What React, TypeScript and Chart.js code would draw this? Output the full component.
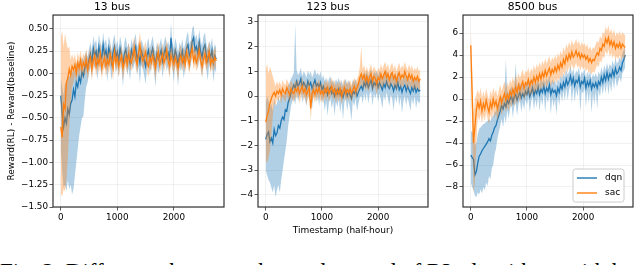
import React, { useEffect, useRef } from "react";
import { Chart, registerables } from "chart.js";

Chart.register(...registerables);

// ---------------- data ----------------
const TIMESTAMPS = [
  0, 25, 50, 75, 100, 125, 150, 175, 200, 225,
  250, 275, 300, 325, 350, 375, 400, 425, 450, 475,
  500, 525, 550, 575, 600, 625, 650, 675, 700, 725,
  750, 775, 800, 825, 850, 875, 900, 925, 950, 975,
  1000, 1025, 1050, 1075, 1100, 1125, 1150, 1175, 1200, 1225,
  1250, 1275, 1300, 1325, 1350, 1375, 1400, 1425, 1450, 1475,
  1500, 1525, 1550, 1575, 1600, 1625, 1650, 1675, 1700, 1725,
  1750, 1775, 1800, 1825, 1850, 1875, 1900, 1925, 1950, 1975,
  2000, 2025, 2050, 2075, 2100, 2125, 2150, 2175, 2200, 2225,
  2250, 2275, 2300, 2325, 2350, 2375, 2400, 2425, 2450, 2475,
  2500, 2525, 2550, 2575, 2600, 2625, 2650, 2675, 2700, 2725, 2750,
];
const X_TICKS = [0, 1000, 2000];

const TITLES = ["13 bus", "123 bus", "8500 bus"];
const SERIES_NAMES = ["dqn", "sac"];
const Y_LABEL = "Reward(RL) - Reward(baseline)";
const X_LABEL = "Timestamp (half-hour)";
const CAPTION = "Fig. 2: Difference between the total reward of RL algorithms with baseline and";

const BUS13_TICKS = [-1.5, -1.25, -1, -0.75, -0.5, -0.25, 0, 0.25, 0.5];
const BUS123_TICKS = [-4, -3, -2, -1, 0, 1, 2, 3];
const BUS8500_TICKS = [-8, -6, -4, -2, 0, 2, 4, 6];

// 13 bus
const BUS13_DQN = [
  -0.25, -0.45, -0.60, -0.50, -0.56, -0.40, -0.46, -0.34, -0.30, -0.18,
  -0.26, -0.10, -0.15, -0.04, -0.10, 0.02, -0.03, 0.06, 0.12, 0.05,
  0.16, 0.22, 0.12, 0.28, 0.20, 0.25, 0.14, 0.30, 0.22, 0.18,
  0.32, 0.20, 0.26, 0.15, 0.29, 0.22, 0.12, 0.24, 0.30, 0.18,
  0.24, 0.14, 0.28, 0.20, 0.10, 0.22, 0.27, 0.16, 0.21, 0.12,
  0.26, 0.19, 0.24, 0.30, 0.16, 0.22, 0.12, 0.25, 0.20, 0.15,
  0.08, 0.20, 0.26, 0.15, 0.22, 0.28, 0.18, 0.10, 0.22, 0.16,
  0.20, 0.26, 0.14, 0.22, 0.28, 0.18, 0.23, 0.16, 0.40, 0.22,
  0.15, 0.26, 0.20, 0.10, 0.22, 0.17, 0.25, 0.14, 0.20, 0.28,
  0.32, 0.20, 0.24, 0.36, 0.40, 0.26, 0.30, 0.22, 0.35, 0.24,
  0.18, 0.28, 0.32, 0.20, 0.14, 0.24, 0.18, 0.26, 0.12, 0.20, 0.16,
];
const BUS13_DQN_LO = [
  -0.85, -1.10, -1.28, -1.25, -1.32, -1.20, -1.30, -1.25, -1.36, -1.30,
  -1.15, -1.00, -0.85, -0.70, -0.60, -0.50, -0.48, -0.30, -0.15, -0.10,
  0.00, 0.08, -0.05, 0.12, 0.05, 0.10, -0.08, 0.15, 0.05, -0.02,
  0.15, 0.05, 0.10, -0.10, 0.14, 0.05, -0.08, 0.10, 0.15, 0.00,
  0.10, -0.05, 0.14, 0.05, -0.15, 0.08, 0.12, -0.02, 0.06, -0.08,
  0.12, 0.04, 0.10, 0.15, -0.02, 0.08, -0.12, 0.10, 0.06, -0.02,
  -0.12, 0.05, 0.12, -0.02, 0.08, 0.14, 0.02, -0.15, 0.08, 0.00,
  0.06, 0.12, -0.05, 0.08, 0.14, 0.02, 0.10, -0.05, 0.22, 0.06,
  -0.10, 0.12, 0.05, -0.15, 0.08, 0.02, 0.10, -0.06, 0.06, 0.14,
  0.16, 0.02, 0.10, 0.20, 0.24, 0.10, 0.14, 0.05, 0.18, 0.08,
  -0.05, 0.12, 0.16, 0.04, -0.08, 0.10, 0.02, 0.12, -0.10, 0.05, 0.00,
];
const BUS13_DQN_HI = [
  -0.05, -0.15, -0.25, -0.10, -0.15, -0.02, -0.05, 0.02, 0.00, 0.08,
  0.02, 0.12, 0.08, 0.15, 0.10, 0.18, 0.14, 0.20, 0.25, 0.18,
  0.28, 0.35, 0.25, 0.42, 0.33, 0.38, 0.26, 0.44, 0.35, 0.30,
  0.46, 0.33, 0.39, 0.27, 0.42, 0.35, 0.25, 0.37, 0.44, 0.31,
  0.37, 0.27, 0.42, 0.33, 0.22, 0.35, 0.41, 0.29, 0.34, 0.25,
  0.39, 0.32, 0.37, 0.45, 0.29, 0.35, 0.25, 0.38, 0.33, 0.28,
  0.21, 0.33, 0.40, 0.28, 0.35, 0.42, 0.31, 0.23, 0.35, 0.29,
  0.33, 0.40, 0.27, 0.35, 0.42, 0.31, 0.36, 0.29, 0.56, 0.35,
  0.28, 0.40, 0.33, 0.23, 0.35, 0.30, 0.39, 0.27, 0.33, 0.42,
  0.47, 0.33, 0.37, 0.50, 0.54, 0.39, 0.44, 0.35, 0.49, 0.37,
  0.31, 0.42, 0.46, 0.33, 0.27, 0.37, 0.31, 0.40, 0.25, 0.33, 0.29,
];
const BUS13_SAC = [
  -0.60, -0.72, -0.35, -0.40, -0.10, -0.05, 0.05, -0.02, 0.08, 0.04,
  0.10, 0.00, 0.12, 0.06, 0.15, 0.05, 0.12, 0.08, 0.16, 0.04,
  0.12, 0.18, 0.05, 0.14, 0.20, 0.08, 0.16, 0.10, 0.22, 0.06,
  0.12, 0.18, 0.08, 0.15, 0.10, 0.21, 0.14, 0.06, 0.24, 0.12,
  0.18, 0.08, 0.14, 0.20, 0.06, 0.12, 0.18, 0.10, 0.22, 0.15,
  0.12, 0.20, 0.28, 0.16, 0.10, 0.22, 0.32, 0.20, 0.14, 0.18,
  0.24, 0.12, 0.08, 0.18, 0.12, 0.20, 0.14, 0.06, 0.18, 0.24,
  0.10, 0.16, 0.22, 0.12, 0.18, 0.26, 0.14, 0.08, 0.20, 0.14,
  0.10, 0.18, 0.12, 0.06, 0.16, 0.20, 0.12, 0.18, 0.10, 0.24,
  0.16, 0.10, 0.22, 0.28, 0.14, 0.20, 0.12, 0.18, 0.26, 0.14,
  0.08, 0.16, 0.22, 0.12, 0.18, 0.24, 0.10, 0.16, 0.12, 0.18, 0.14,
];
const BUS13_SAC_LO = [
  -1.35, -1.38, -1.30, -1.32, -1.20, -0.95, -0.60, -0.35, -0.15, -0.10,
  -0.02, -0.12, 0.02, -0.05, 0.05, -0.08, 0.02, -0.04, 0.06, -0.08,
  0.02, 0.08, -0.08, 0.04, 0.10, -0.04, 0.06, 0.00, 0.12, -0.06,
  0.02, 0.08, -0.04, 0.05, 0.00, 0.11, 0.04, -0.08, 0.14, 0.02,
  0.08, -0.04, 0.04, 0.10, -0.08, 0.02, 0.08, 0.00, 0.12, 0.05,
  0.02, 0.10, 0.16, 0.06, 0.00, 0.12, 0.20, 0.10, 0.04, 0.08,
  0.14, 0.02, -0.04, 0.08, 0.02, 0.10, 0.04, -0.08, 0.08, 0.14,
  0.00, 0.06, 0.12, 0.02, 0.08, 0.16, 0.04, -0.05, 0.10, 0.04,
  0.00, 0.08, 0.02, -0.08, 0.06, 0.10, 0.02, 0.08, 0.00, 0.14,
  0.06, 0.00, 0.12, 0.18, 0.04, 0.10, 0.02, 0.08, 0.16, 0.04,
  -0.04, 0.06, 0.12, 0.02, 0.08, 0.14, 0.00, 0.06, 0.02, 0.08, 0.04,
];
const BUS13_SAC_HI = [
  0.40, 0.48, 0.30, 0.45, 0.35, 0.28, 0.30, 0.15, 0.22, 0.16,
  0.22, 0.12, 0.24, 0.17, 0.26, 0.16, 0.23, 0.19, 0.28, 0.15,
  0.23, 0.30, 0.16, 0.25, 0.32, 0.19, 0.28, 0.21, 0.35, 0.17,
  0.23, 0.30, 0.19, 0.26, 0.21, 0.33, 0.25, 0.17, 0.37, 0.23,
  0.29, 0.19, 0.25, 0.32, 0.17, 0.23, 0.30, 0.21, 0.35, 0.26,
  0.23, 0.32, 0.42, 0.28, 0.21, 0.35, 0.46, 0.32, 0.25, 0.30,
  0.36, 0.23, 0.19, 0.30, 0.23, 0.32, 0.25, 0.17, 0.30, 0.36,
  0.21, 0.28, 0.34, 0.23, 0.30, 0.38, 0.25, 0.19, 0.32, 0.25,
  0.21, 0.30, 0.23, 0.17, 0.28, 0.32, 0.23, 0.30, 0.21, 0.36,
  0.28, 0.21, 0.34, 0.40, 0.25, 0.32, 0.23, 0.30, 0.38, 0.25,
  0.19, 0.28, 0.34, 0.23, 0.30, 0.36, 0.21, 0.28, 0.23, 0.30, 0.25,
];

// 123 bus
const BUS123_DQN = [
  -1.75, -1.55, -1.45, -1.85, -1.70, -1.90, -1.35, -1.60, -1.50, -1.20,
  -1.30, -1.00, -0.85, -0.95, -0.55, -0.60, -0.25, -0.10, 0.15, 0.30,
  0.45, 0.30, 0.60, 0.40, 0.50, 0.70, 0.35, 0.55, 0.45, 0.30,
  0.60, 0.42, 0.55, 0.30, 0.48, 0.65, 0.40, 0.50, 0.35, 0.55,
  0.25, 0.40, 0.15, 0.30, 0.05, 0.25, 0.35, 0.10, 0.20, 0.00,
  0.25, 0.10, 0.30, 0.05, 0.20, -0.05, 0.15, 0.25, 0.00, 0.18,
  0.05, -0.10, 0.20, 0.10, 0.25, 0.00, 0.15, 0.30, 0.40, 0.25,
  0.55, 0.40, 0.60, 0.35, 0.50, 0.65, 0.30, 0.55, 0.45, 0.60,
  0.35, 0.55, 0.40, 0.25, 0.50, 0.35, 0.60, 0.40, 0.30, 0.50,
  0.40, 0.20, 0.45, 0.30, 0.55, 0.25, 0.40, 0.15, 0.35, 0.45,
  0.20, 0.40, 0.25, 0.10, 0.35, 0.20, 0.40, 0.15, 0.30, 0.20, 0.25,
];
const BUS123_DQN_LO = [
  -3.00, -3.20, -3.40, -3.50, -3.70, -3.90, -3.60, -4.10, -3.80, -3.60,
  -3.90, -3.40, -3.00, -2.60, -2.20, -1.80, -1.20, -0.80, -0.40, -0.20,
  -0.10, -0.35, 0.15, -0.20, 0.00, 0.20, -0.30, 0.10, -0.15, -0.40,
  0.10, -0.20, 0.05, -0.50, 0.00, 0.20, -0.25, 0.05, -0.40, 0.10,
  -0.30, -0.05, -0.60, -0.20, -0.80, -0.25, -0.10, -0.50, -0.20, -0.80,
  -0.20, -0.45, -0.10, -0.70, -0.20, -0.95, -0.25, -0.10, -0.60, -0.20,
  -0.50, -1.00, -0.20, -0.40, -0.10, -0.60, -0.30, -0.05, 0.00, -0.30,
  0.10, -0.20, 0.15, -0.30, 0.05, 0.20, -0.40, 0.10, -0.10, 0.15,
  -0.25, 0.10, -0.15, -0.50, 0.05, -0.20, 0.15, -0.10, -0.40, 0.05,
  -0.10, -0.60, 0.00, -0.30, 0.10, -0.40, -0.05, -0.70, -0.20, 0.00,
  -0.40, -0.05, -0.30, -0.60, -0.10, -0.35, 0.00, -0.50, -0.15, -0.30, -0.20,
];
const BUS123_DQN_HI = [
  -0.30, 0.00, -0.20, -0.50, -0.30, -0.60, -0.10, -0.40, -0.30, 0.00,
  -0.20, 0.05, 0.10, 0.05, 0.30, 0.25, 0.45, 0.55, 0.70, 0.80,
  0.95, 2.90, 1.05, 0.85, 0.95, 1.15, 0.80, 1.00, 0.90, 0.75,
  1.05, 0.85, 1.00, 0.75, 0.90, 1.10, 0.85, 0.95, 0.80, 1.00,
  0.70, 0.85, 0.60, 0.75, 0.50, 0.70, 0.80, 0.55, 0.65, 0.45,
  0.70, 0.55, 0.75, 0.50, 0.65, 0.40, 0.60, 0.70, 0.45, 0.65,
  0.50, 0.35, 0.65, 0.55, 0.70, 0.45, 0.60, 0.75, 0.85, 0.70,
  1.00, 0.85, 1.05, 0.80, 0.95, 1.10, 0.75, 1.00, 0.90, 1.05,
  0.80, 1.00, 0.85, 0.70, 0.95, 0.80, 1.05, 0.85, 0.75, 0.95,
  0.85, 0.65, 0.90, 0.75, 1.00, 0.70, 0.85, 0.60, 0.80, 0.90,
  0.65, 0.85, 0.70, 0.55, 0.80, 0.65, 0.85, 0.60, 0.75, 0.65, 0.70,
];
const BUS123_SAC = [
  -1.05, -0.80, -0.60, -0.30, -0.10, 0.05, 0.15, 0.00, 0.20, 0.10,
  0.25, 0.05, 0.30, 0.15, 0.10, 0.35, 0.20, 0.05, 0.30, 0.15,
  0.10, 0.30, 0.20, 0.35, 0.10, 0.25, 0.40, 0.15, 0.30, 0.05,
  0.20, 0.35, -0.50, 0.10, 0.25, 0.05, 0.30, 0.15, 0.35, 0.10,
  0.20, 0.05, 0.30, 0.15, 0.35, 0.10, 0.25, 0.40, 0.15, 0.30,
  0.05, 0.25, 0.10, 0.30, 0.00, 0.20, 0.35, 0.10, 0.25, 0.15,
  0.30, 0.10, 0.25, 0.40, 0.20, 0.35, 0.50, 0.75, 0.90, 0.70,
  0.85, 0.60, 0.80, 0.55, 0.75, 0.90, 0.60, 0.80, 0.70, 0.50,
  0.75, 0.65, 0.90, 0.70, 0.85, 1.00, 0.75, 0.90, 0.65, 0.85,
  0.95, 0.70, 0.85, 0.60, 0.80, 0.95, 0.70, 0.85, 0.75, 1.00,
  0.80, 0.65, 0.90, 0.70, 0.85, 0.60, 0.75, 0.65, 0.80, 0.60, 0.70,
];
const BUS123_SAC_LO = [
  -2.60, -2.70, -2.50, -2.20, -1.60, -0.80, -0.30, -0.40, -0.10, -0.20,
  -0.05, -0.30, 0.00, -0.15, -0.25, 0.05, -0.10, -0.30, 0.00, -0.15,
  -0.25, 0.00, -0.10, 0.05, -0.30, -0.05, 0.10, -0.20, 0.00, -0.35,
  -0.10, 0.05, -1.00, -0.30, -0.05, -0.30, 0.00, -0.20, 0.05, -0.25,
  -0.10, -0.30, 0.00, -0.20, 0.05, -0.25, -0.05, 0.10, -0.20, 0.00,
  -0.30, -0.05, -0.25, 0.00, -0.35, -0.10, 0.05, -0.25, -0.05, -0.20,
  0.00, -0.25, -0.05, 0.10, -0.10, 0.05, 0.15, 0.35, 0.50, 0.30,
  0.45, 0.20, 0.40, 0.15, 0.35, 0.50, 0.20, 0.40, 0.30, 0.05,
  0.35, 0.25, 0.50, 0.30, 0.45, 0.60, 0.35, 0.50, 0.25, 0.45,
  0.55, 0.30, 0.45, 0.20, 0.40, 0.55, 0.30, 0.45, 0.35, 0.60,
  0.40, 0.25, 0.50, 0.30, 0.45, 0.20, 0.35, 0.25, 0.40, 0.20, 0.30,
];
const BUS123_SAC_HI = [
  1.10, 1.30, 0.90, 1.20, 1.00, 0.80, 0.60, 0.40, 0.60, 0.45,
  0.60, 0.40, 0.65, 0.50, 0.45, 0.70, 0.55, 0.40, 0.65, 0.50,
  0.45, 0.65, 0.55, 0.70, 0.45, 0.60, 0.75, 0.50, 0.65, 0.40,
  0.55, 0.70, 0.00, 0.45, 0.60, 0.40, 0.65, 0.50, 0.70, 0.45,
  0.55, 0.40, 0.65, 0.50, 0.70, 0.45, 0.60, 0.75, 0.50, 0.65,
  0.40, 0.60, 0.45, 0.65, 0.35, 0.55, 0.70, 0.45, 0.60, 0.50,
  0.65, 0.45, 0.60, 0.75, 0.55, 0.70, 0.85, 1.20, 2.00, 1.10,
  1.25, 1.00, 1.20, 0.95, 1.15, 1.30, 1.00, 1.20, 1.10, 0.90,
  1.15, 1.05, 1.30, 1.10, 1.25, 1.40, 1.15, 1.30, 1.05, 1.25,
  1.35, 1.10, 1.25, 1.00, 1.20, 1.35, 1.10, 1.25, 1.15, 1.40,
  1.20, 1.05, 1.30, 1.10, 1.25, 1.00, 1.15, 1.05, 1.20, 1.00, 1.10,
];

// 8500 bus
const BUS8500_DQN = [
  -5.10, -5.30, -5.50, -6.90, -6.60, -5.80, -5.20, -5.00, -4.70, -4.50,
  -4.30, -4.10, -3.90, -3.60, -3.80, -3.30, -3.00, -2.60, -2.40, -1.90,
  -1.50, -1.10, -0.60, -0.90, -0.40, -0.70, -0.10, -0.40, 0.00, 0.30,
  -0.30, 0.20, 0.40, -0.10, 0.30, 0.60, 0.10, 0.50, 0.20, 0.70,
  0.40, 0.90, 0.20, 0.60, 1.00, 0.30, 0.80, 0.50, 1.10, 0.40,
  0.90, 0.60, 1.20, 0.50, 1.00, 0.70, 1.30, 0.40, 0.90, 0.60,
  0.80, 0.30, 1.00, 0.60, 1.30, 0.90, 1.50, 1.10, 1.80, 1.30,
  1.60, 2.10, 1.40, 1.90, 1.20, 1.70, 1.50, 2.00, 1.10, 1.60,
  1.40, 1.90, 1.00, 1.60, 1.20, 1.70, 0.90, 1.40, 1.10, 1.50,
  1.00, 1.60, 1.30, 2.00, 1.50, 2.20, 1.70, 2.40, 1.80, 2.30,
  2.00, 2.60, 2.10, 2.80, 2.30, 2.50, 2.90, 2.60, 3.30, 3.60, 4.00,
];
const BUS8500_DQN_LO = [
  -7.60, -8.00, -8.30, -8.80, -8.90, -8.50, -8.70, -8.20, -8.60, -8.00,
  -8.30, -7.60, -7.90, -7.00, -7.30, -6.30, -6.00, -5.00, -4.50, -3.60,
  -3.00, -2.40, -1.80, -2.60, -1.50, -2.20, -1.00, -1.80, -0.90, -0.50,
  -1.70, -0.60, -0.40, -1.50, -0.50, -0.10, -1.20, -0.30, -1.00, 0.00,
  -0.60, 0.20, -1.20, -0.30, 0.30, -1.00, 0.00, -0.80, 0.40, -1.10,
  0.10, -0.60, 0.50, -1.20, 0.20, -0.40, 0.60, -1.40, 0.10, -0.70,
  0.00, -1.50, 0.30, -0.60, 0.60, -0.30, 0.80, -0.20, 1.00, -0.10,
  0.80, 1.30, -0.40, 1.10, -0.30, 0.90, 0.20, 1.20, -1.20, 0.70,
  0.50, 1.10, -0.80, 0.80, -0.40, 0.90, -1.30, 0.50, -0.50, 0.70,
  -0.90, 0.80, 0.20, 1.20, 0.40, 1.40, 0.50, 1.60, 0.40, 1.50,
  0.60, 1.80, 0.90, 2.00, 1.10, 1.60, 2.00, 1.50, 2.40, 2.60, 2.90,
];
const BUS8500_DQN_HI = [
  -2.90, -3.00, -3.20, -4.20, -4.00, -3.20, -2.70, -2.60, -2.40, -2.30,
  -2.20, -2.10, -2.00, -1.80, -2.00, -1.70, -1.50, -1.20, -1.10, -0.70,
  -0.40, -0.10, 0.30, 0.00, 0.50, 3.60, 0.80, 0.50, 0.90, 1.20,
  0.60, 1.10, 3.30, 0.80, 1.20, 1.60, 1.00, 1.40, 1.10, 1.60,
  1.30, 1.80, 1.10, 1.30, 1.90, 1.20, 1.70, 1.40, 2.00, 1.30,
  1.80, 1.50, 1.90, 1.40, 1.90, 1.60, 2.20, 1.30, 1.80, 1.50,
  1.70, 1.20, 1.90, 1.50, 2.20, 1.80, 2.40, 2.00, 2.70, 2.20,
  2.50, 3.00, 2.30, 2.80, 2.10, 2.60, 2.40, 2.90, 2.00, 2.50,
  2.30, 2.80, 1.90, 2.50, 2.10, 2.60, 1.80, 2.30, 2.00, 2.40,
  1.90, 2.50, 2.20, 2.90, 2.40, 3.10, 2.60, 3.30, 2.70, 3.20,
  2.90, 3.50, 3.00, 3.70, 3.20, 3.40, 3.80, 3.50, 4.20, 4.50, 4.80,
];
const BUS8500_SAC = [
  4.90, 0.50, -4.00, -2.50, -1.00, -0.30, -0.80, -0.20, -1.10, -0.40,
  -0.90, -0.10, -0.70, -1.20, -0.30, -0.80, 0.00, -0.60, -0.20, -0.90,
  -0.30, 0.20, -0.40, 0.10, 0.50, -0.10, 0.40, 0.00, 0.70, 0.30,
  0.90, 0.40, 1.10, 0.60, 1.30, 0.80, 1.20, 1.60, 1.00, 1.50,
  1.30, 1.80, 1.20, 1.70, 1.40, 2.00, 1.50, 2.10, 1.70, 2.30,
  1.80, 2.40, 2.00, 2.60, 2.10, 2.50, 2.80, 2.20, 2.70, 2.40,
  2.90, 2.50, 3.10, 2.70, 3.30, 2.90, 3.60, 3.20, 3.90, 3.50,
  4.10, 3.70, 4.30, 3.80, 4.00, 4.40, 3.90, 4.20, 3.70, 4.10,
  3.80, 4.00, 3.60, 3.90, 3.40, 3.70, 3.30, 3.60, 3.50, 3.90,
  4.20, 4.00, 4.60, 4.40, 5.00, 4.80, 5.50, 5.10, 5.60, 4.90,
  5.30, 4.80, 5.20, 4.60, 5.00, 4.70, 5.10, 4.60, 5.00, 4.80, 4.70,
];
const BUS8500_SAC_LO = [
  3.20, -2.50, -8.60, -7.50, -4.00, -1.50, -2.00, -1.40, -2.20, -1.50,
  -2.00, -1.20, -1.80, -2.30, -1.40, -1.90, -1.10, -1.70, -1.30, -2.00,
  -1.40, -0.90, -1.50, -1.00, -0.60, -1.20, -0.70, -1.10, -0.40, -0.80,
  -0.20, -0.70, 0.00, -0.50, 0.20, -0.30, 0.10, 0.50, -0.10, 0.40,
  0.20, 0.70, 0.10, 0.60, 0.30, 0.90, 0.40, 1.00, 0.60, 1.20,
  0.70, 1.30, 0.90, 1.50, 1.00, 1.40, 1.70, 1.10, 1.60, 1.30,
  1.80, 1.40, 2.00, 1.60, 2.20, 1.80, 2.50, 2.10, 2.80, 2.40,
  3.00, 2.60, 3.20, 2.70, 2.90, 3.30, 2.80, 3.10, 2.60, 3.00,
  2.70, 2.90, 2.50, 2.80, 2.30, 2.60, 2.20, 2.50, 2.40, 2.80,
  3.10, 2.90, 3.50, 3.30, 3.90, 3.70, 4.40, 4.00, 4.50, 3.80,
  4.20, 3.70, 4.10, 3.50, 3.90, 3.60, 4.00, 3.50, 3.90, 3.70, 3.60,
];
const BUS8500_SAC_HI = [
  6.60, 3.00, -1.50, 0.00, 0.40, 0.90, 0.40, 1.00, 0.10, 0.70,
  0.20, 1.00, 0.40, -0.10, 0.80, 0.30, 1.10, 0.50, 0.90, 0.20,
  0.80, 1.30, 0.70, 1.20, 1.60, 1.00, 1.50, 1.10, 1.80, 1.40,
  2.00, 1.50, 2.20, 1.70, 2.40, 1.90, 2.30, 2.70, 2.10, 2.60,
  2.40, 2.90, 2.30, 2.80, 2.50, 3.10, 2.60, 3.20, 2.80, 3.40,
  2.90, 3.50, 3.10, 3.70, 3.20, 3.60, 3.90, 3.30, 3.80, 3.50,
  4.00, 3.60, 4.20, 3.80, 4.40, 4.00, 4.70, 4.30, 5.00, 4.60,
  5.20, 4.80, 5.40, 4.90, 5.10, 5.50, 5.00, 5.30, 4.80, 5.20,
  4.90, 5.10, 4.70, 5.00, 4.50, 4.80, 4.40, 4.70, 4.60, 5.00,
  5.30, 5.10, 5.70, 5.50, 6.10, 5.90, 6.60, 6.20, 6.70, 6.00,
  6.40, 5.90, 6.30, 5.70, 6.10, 5.80, 6.20, 5.70, 6.10, 5.90, 5.80,
];

// ---------------- styling / layout ----------------
const FONT = "DejaVu Sans";
const DQN_COLOR = "#1f77b4";
const SAC_COLOR = "#ff7f0e";
const DQN_BAND = "rgba(31,119,180,0.35)";
const SAC_BAND = "rgba(255,127,14,0.35)";
const CANVAS_H = 245;
const PLOT_BOTTOM = 207;

type PanelSpec = {
  title: string;
  left: number;
  width: number;
  yWidth: number;
  padRight: number;
  yMin: number;
  yMax: number;
  yTicks: number[];
  decimals: number;
  dqn: number[][];
  sac: number[][];
  yTitle: boolean;
  xTitle: boolean;
  legend: boolean;
};

const PANELS: PanelSpec[] = [
  {
    title: TITLES[0], left: 0, width: 228, yWidth: 53, padRight: 4,
    yMin: -1.5, yMax: 0.655, yTicks: BUS13_TICKS, decimals: 2,
    dqn: [BUS13_DQN, BUS13_DQN_LO, BUS13_DQN_HI],
    sac: [BUS13_SAC, BUS13_SAC_LO, BUS13_SAC_HI],
    yTitle: true, xTitle: false, legend: false,
  },
  {
    title: TITLES[1], left: 228, width: 204, yWidth: 30, padRight: 4,
    yMin: -4.49, yMax: 3.28, yTicks: BUS123_TICKS, decimals: 0,
    dqn: [BUS123_DQN, BUS123_DQN_LO, BUS123_DQN_HI],
    sac: [BUS123_SAC, BUS123_SAC_LO, BUS123_SAC_HI],
    yTitle: false, xTitle: true, legend: false,
  },
  {
    title: TITLES[2], left: 432, width: 208, yWidth: 31, padRight: 7,
    yMin: -9.82, yMax: 7.64, yTicks: BUS8500_TICKS, decimals: 0,
    dqn: [BUS8500_DQN, BUS8500_DQN_LO, BUS8500_DQN_HI],
    sac: [BUS8500_SAC, BUS8500_SAC_LO, BUS8500_SAC_HI],
    yTitle: false, xTitle: false, legend: true,
  },
];

const toPoints = (arr: number[]) => TIMESTAMPS.map((x, i) => ({ x, y: arr[i] }));
const fmt = (v: number, d: number) => v.toFixed(d).replace("-", "\u2212");

const framePlugin = {
  id: "frame",
  afterDatasetsDraw(chart: any) {
    const { ctx, chartArea } = chart;
    const { left, top, right, bottom } = chartArea;
    ctx.save();
    ctx.strokeStyle = "#333333";
    ctx.lineWidth = 1.2;
    ctx.strokeRect(left, top, right - left, bottom - top);
    ctx.restore();
  },
};

const legendPlugin = {
  id: "boxLegend",
  afterDraw(chart: any) {
    const opts = chart.options.plugins.boxLegend;
    if (!opts || !opts.show) return;
    const { ctx, chartArea } = chart;
    const w = 51;
    const h = 33;
    const x0 = chartArea.right - 9 - w;
    const y0 = chartArea.bottom - 5 - h;
    ctx.save();
    ctx.beginPath();
    const r = 2.5;
    ctx.moveTo(x0 + r, y0);
    ctx.lineTo(x0 + w - r, y0);
    ctx.arcTo(x0 + w, y0, x0 + w, y0 + r, r);
    ctx.lineTo(x0 + w, y0 + h - r);
    ctx.arcTo(x0 + w, y0 + h, x0 + w - r, y0 + h, r);
    ctx.lineTo(x0 + r, y0 + h);
    ctx.arcTo(x0, y0 + h, x0, y0 + h - r, r);
    ctx.lineTo(x0, y0 + r);
    ctx.arcTo(x0, y0, x0 + r, y0, r);
    ctx.closePath();
    ctx.fillStyle = "rgba(255,255,255,0.85)";
    ctx.fill();
    ctx.strokeStyle = "#cccccc";
    ctx.lineWidth = 1;
    ctx.stroke();
    const colors = [DQN_COLOR, SAC_COLOR];
    ctx.font = `9px "${FONT}"`;
    ctx.textBaseline = "middle";
    SERIES_NAMES.forEach((name, i) => {
      const yy = y0 + 9 + i * 15;
      ctx.beginPath();
      ctx.strokeStyle = colors[i];
      ctx.lineWidth = 1.4;
      ctx.moveTo(x0 + 4, yy);
      ctx.lineTo(x0 + 24, yy);
      ctx.stroke();
      ctx.fillStyle = "#000";
      ctx.fillText(name, x0 + 32, yy);
    });
    ctx.restore();
  },
};

function Panel({ spec }: { spec: PanelSpec }) {
  const ref = useRef<HTMLCanvasElement | null>(null);
  useEffect(() => {
    if (!ref.current) return;
    const line = (data: number[], color: string, order: number) => ({
      data: toPoints(data),
      borderColor: color,
      borderWidth: 1.3,
      pointRadius: 0,
      fill: false,
      tension: 0,
      order,
    });
    const hi = (data: number[], color: string, order: number) => ({
      data: toPoints(data),
      borderColor: "rgba(0,0,0,0)",
      borderWidth: 0,
      backgroundColor: color,
      pointRadius: 0,
      fill: "+1",
      tension: 0,
      order,
    });
    const lo = (data: number[], order: number) => ({
      data: toPoints(data),
      borderColor: "rgba(0,0,0,0)",
      borderWidth: 0,
      pointRadius: 0,
      fill: false,
      tension: 0,
      order,
    });
    const chart = new Chart(ref.current, {
      type: "line",
      data: {
        datasets: [
          line(spec.sac[0], SAC_COLOR, 1),
          hi(spec.sac[2], SAC_BAND, 2),
          lo(spec.sac[1], 2),
          line(spec.dqn[0], DQN_COLOR, 3),
          hi(spec.dqn[2], DQN_BAND, 4),
          lo(spec.dqn[1], 4),
        ] as any,
      },
      options: {
        responsive: false,
        animation: false,
        events: [],
        layout: {
          autoPadding: false,
          padding: { left: 0, right: spec.padRight, top: 0, bottom: 0 },
        },
        plugins: {
          legend: { display: false },
          tooltip: { enabled: false },
          title: {
            display: true,
            text: spec.title,
            color: "#000",
            font: { family: FONT, size: 10.7, weight: "normal" as any, lineHeight: 1.2 },
            padding: { top: 1, bottom: 1.2 },
          },
          boxLegend: { show: spec.legend },
        } as any,
        scales: {
          x: {
            type: "linear",
            min: -137.5,
            max: 2887.5,
            afterBuildTicks: (s: any) => {
              s.ticks = X_TICKS.map((v) => ({ value: v }));
            },
            afterFit: (s: any) => {
              s.height = CANVAS_H - PLOT_BOTTOM;
            },
            grid: { color: "rgba(0,0,0,0.07)", lineWidth: 0.8, tickColor: "#333", tickLength: 3.5 },
            border: { display: false },
            ticks: {
              color: "#000",
              font: { family: FONT, size: 8.8 },
              padding: 2,
              maxRotation: 0,
              autoSkip: false,
              callback: (v: any) => String(v),
            },
            title: {
              display: spec.xTitle,
              text: X_LABEL,
              color: "#000",
              font: { family: FONT, size: 9, lineHeight: 1.2 },
              padding: { top: 0, bottom: 9 },
            },
          },
          y: {
            type: "linear",
            min: spec.yMin,
            max: spec.yMax,
            afterBuildTicks: (s: any) => {
              s.ticks = spec.yTicks.map((v) => ({ value: v }));
            },
            afterFit: (s: any) => {
              s.width = spec.yWidth;
            },
            grid: { color: "rgba(0,0,0,0.07)", lineWidth: 0.8, tickColor: "#333", tickLength: 3.5 },
            border: { display: false },
            ticks: {
              color: "#000",
              font: { family: FONT, size: 8.8 },
              padding: 1.5,
              autoSkip: false,
              callback: (v: any) => fmt(Number(v), spec.decimals),
            },
            title: {
              display: spec.yTitle,
              text: Y_LABEL,
              color: "#000",
              font: { family: FONT, size: 9, lineHeight: 1.2 },
              padding: { top: 6, bottom: 0 },
            },
          },
        },
      } as any,
      plugins: [framePlugin, legendPlugin],
    });
    return () => chart.destroy();
  }, [spec]);
  return (
    <canvas
      ref={ref}
      width={spec.width}
      height={CANVAS_H}
      style={{ position: "absolute", left: spec.left, top: 0, width: spec.width, height: CANVAS_H }}
    />
  );
}

export default function App() {
  return (
    <div
      style={{
        position: "absolute",
        left: 0,
        top: 0,
        width: 640,
        height: 265,
        overflow: "hidden",
        background: "#fff",
      }}
    >
      {PANELS.map((p) => (
        <Panel key={p.title} spec={p} />
      ))}
      <div
        style={{
          position: "absolute",
          left: 0,
          top: 260,
          whiteSpace: "nowrap",
          fontFamily: '"Liberation Serif", serif',
          fontSize: 23,
          lineHeight: "23px",
          color: "#000",
        }}
      >
        {CAPTION}
      </div>
    </div>
  );
}
